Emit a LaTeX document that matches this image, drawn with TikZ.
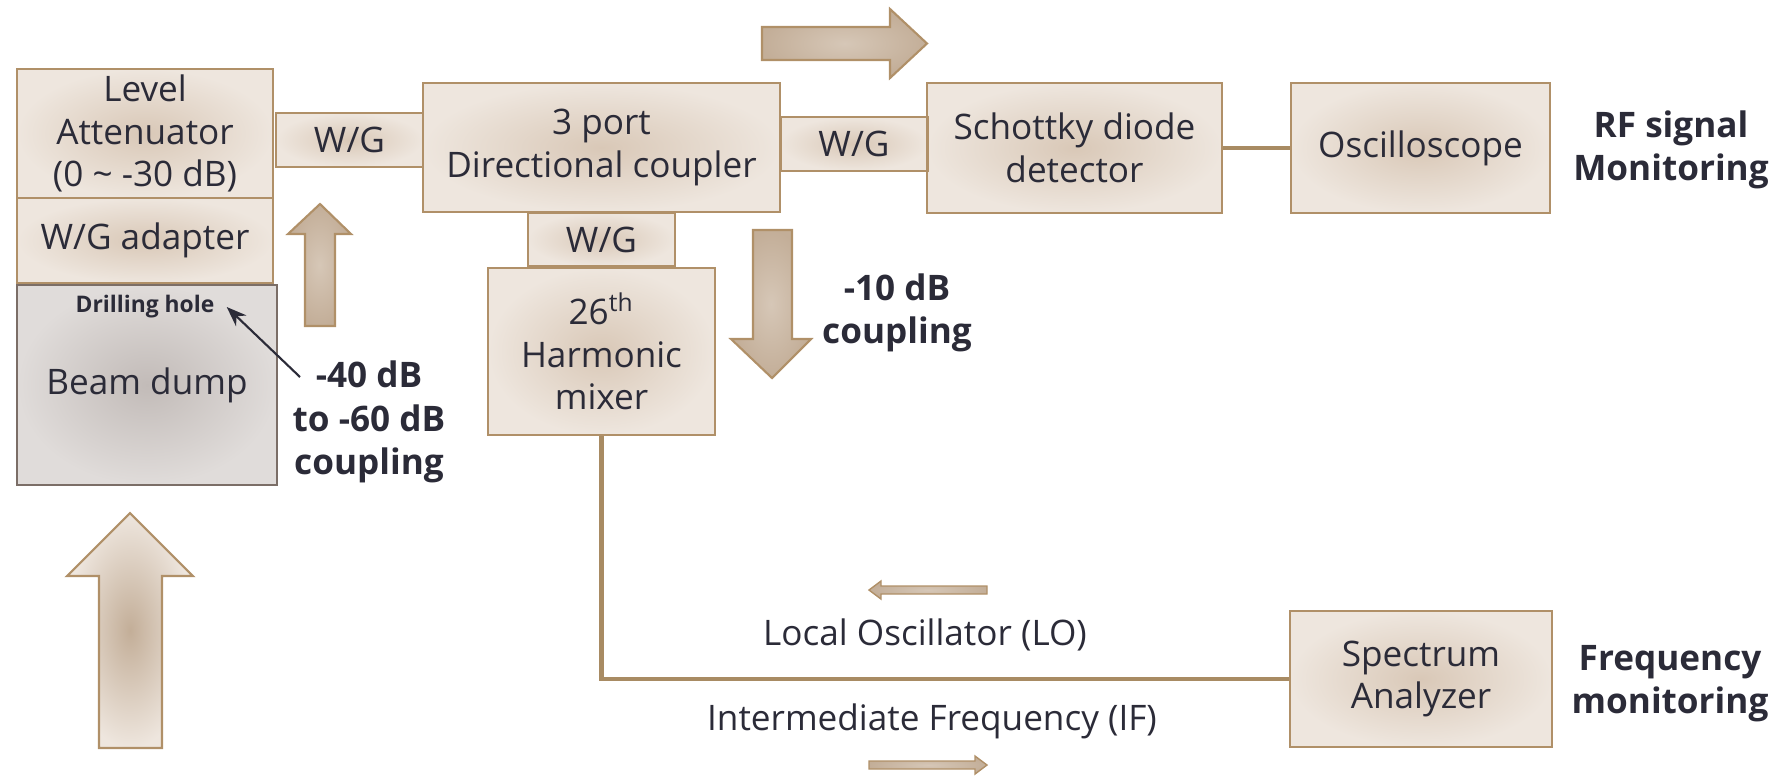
\documentclass[tikz,border=0pt]{standalone}
\usepackage{fontspec}
\setmainfont{Open Sans}
\usepackage{tikz}
\usetikzlibrary{arrows.meta,positioning}
\definecolor{ink}{HTML}{2B2B38}
\definecolor{tanline}{HTML}{B09068}
\definecolor{boxin}{HTML}{D9C8B7}
\definecolor{boxout}{HTML}{EEE6DE}
\definecolor{dumpin}{HTML}{C2BBB8}
\definecolor{dumpout}{HTML}{E0DCDA}
\definecolor{dumpline}{HTML}{7B6E67}
\definecolor{wirecol}{HTML}{A88B63}
\definecolor{arrlight}{HTML}{D6C7B7}
\definecolor{arrdark}{HTML}{C3AE98}
\tikzset{block/.style={draw=tanline,line width=0.6pt,shading=radial,inner color=boxin,outer color=boxout,align=center,text=ink,font=\fontsize{10}{12.2}\selectfont,inner sep=0pt},dump/.style={block,draw=dumpline,inner color=dumpin,outer color=dumpout},tag/.style={align=center,text=ink,font=\bfseries\fontsize{10}{12.3}\selectfont},plain/.style={text=ink,font=\fontsize{10}{12}\selectfont}}

\begin{document}
\begin{tikzpicture}[fat/.style={draw=tanline,line width=0.6pt,shading=radial,inner color=arrlight,outer color=arrdark},beamfat/.style={fat,inner color=arrdark,outer color=boxout},link/.style={draw=wirecol,line width=1.4pt},pointer/.style={-{Stealth[length=2mm,width=1.5mm]},draw=ink,line width=0.6pt}]
\useasboundingbox (0,0) rectangle (17.73,-7.76);
% left stack
\node[block,minimum width=2.56cm,minimum height=1.29cm] (att) at (1.45,-1.335) {Level\\Attenuator\\(0 \textasciitilde{} -30 dB)};
\node[block,minimum width=2.56cm,minimum height=0.85cm] (adapter) at (1.45,-2.405) {W/G adapter};
\node[dump,minimum width=2.60cm,minimum height=2.00cm] (dump) at (1.47,-3.85) {Beam dump};
\node[text=ink,font=\bfseries\fontsize{6.5}{7}\selectfont] (drill) at (1.45,-3.07) {Drilling hole};
% main line
\node[block,minimum width=3.57cm,minimum height=1.29cm] (coupler) at (6.015,-1.475) {3 port\\Directional coupler};
\node[block,minimum width=2.95cm,minimum height=1.30cm] (schottky) at (10.745,-1.48) {Schottky diode\\detector};
\node[block,minimum width=2.59cm,minimum height=1.30cm] (osc) at (14.205,-1.48) {Oscilloscope};
\foreach \x/\y/\id in {3.495/1.40/wgl,8.54/1.44/wgr,6.015/2.395/wgb}{\node[block,minimum width=1.47cm,minimum height=0.54cm] (\id) at (\x,-\y) {W/G};}
\node[block,minimum width=2.27cm,minimum height=1.67cm] (mixer) at (6.015,-3.515) {26\textsuperscript{th}\\Harmonic\\mixer};
\node[block,minimum width=2.62cm,minimum height=1.36cm] (spec) at (14.21,-6.79) {Spectrum\\Analyzer};
% wires
\draw[link] (schottky.east) -- (osc.west);
\draw[link] (mixer.south) |- (spec.west);
% power flow arrows
\path[beamfat] (0.99,-7.48) -- (0.99,-5.76) -- (0.67,-5.76) -- (1.30,-5.13) -- (1.93,-5.76) -- (1.62,-5.76) -- (1.62,-7.48) -- cycle;
\path[fat] (3.05,-3.26) -- (3.05,-2.34) -- (2.88,-2.34) -- (3.20,-2.04) -- (3.51,-2.34) -- (3.35,-2.34) -- (3.35,-3.26) -- cycle;
\path[fat] (7.53,-2.30) -- (7.53,-3.39) -- (7.31,-3.39) -- (7.72,-3.78) -- (8.11,-3.39) -- (7.92,-3.39) -- (7.92,-2.30) -- cycle;
\path[fat] (7.62,-0.27) -- (8.90,-0.27) -- (8.90,-0.09) -- (9.27,-0.435) -- (8.90,-0.78) -- (8.90,-0.60) -- (7.62,-0.60) -- cycle;
% LO / IF
\path[fat,line width=0.4pt] (9.87,-5.86) -- (8.81,-5.86) -- (8.81,-5.81) -- (8.69,-5.90) -- (8.81,-5.99) -- (8.81,-5.94) -- (9.87,-5.94) -- cycle;
\path[fat,line width=0.4pt] (8.69,-7.61) -- (9.75,-7.61) -- (9.75,-7.56) -- (9.87,-7.65) -- (9.75,-7.74) -- (9.75,-7.69) -- (8.69,-7.69) -- cycle;
\node[plain] (lo) at (9.25,-6.35) {Local Oscillator (LO)};
\node[plain] (if) at (9.32,-7.21) {Intermediate Frequency (IF)};
% labels
\node[tag] (c40) at (3.69,-4.22) {-40 dB\\to -60 dB\\coupling};
\node[tag] (c10) at (8.97,-3.13) {-10 dB\\coupling};
\node[tag] (rf) at (16.71,-1.50) {RF signal\\Monitoring};
\node[tag] (freq) at (16.70,-6.84) {Frequency\\monitoring};
\coordinate (ptr) at (3.00,-3.77);
\draw[pointer] (ptr) -- (drill.east);
\end{tikzpicture}
\end{document}
